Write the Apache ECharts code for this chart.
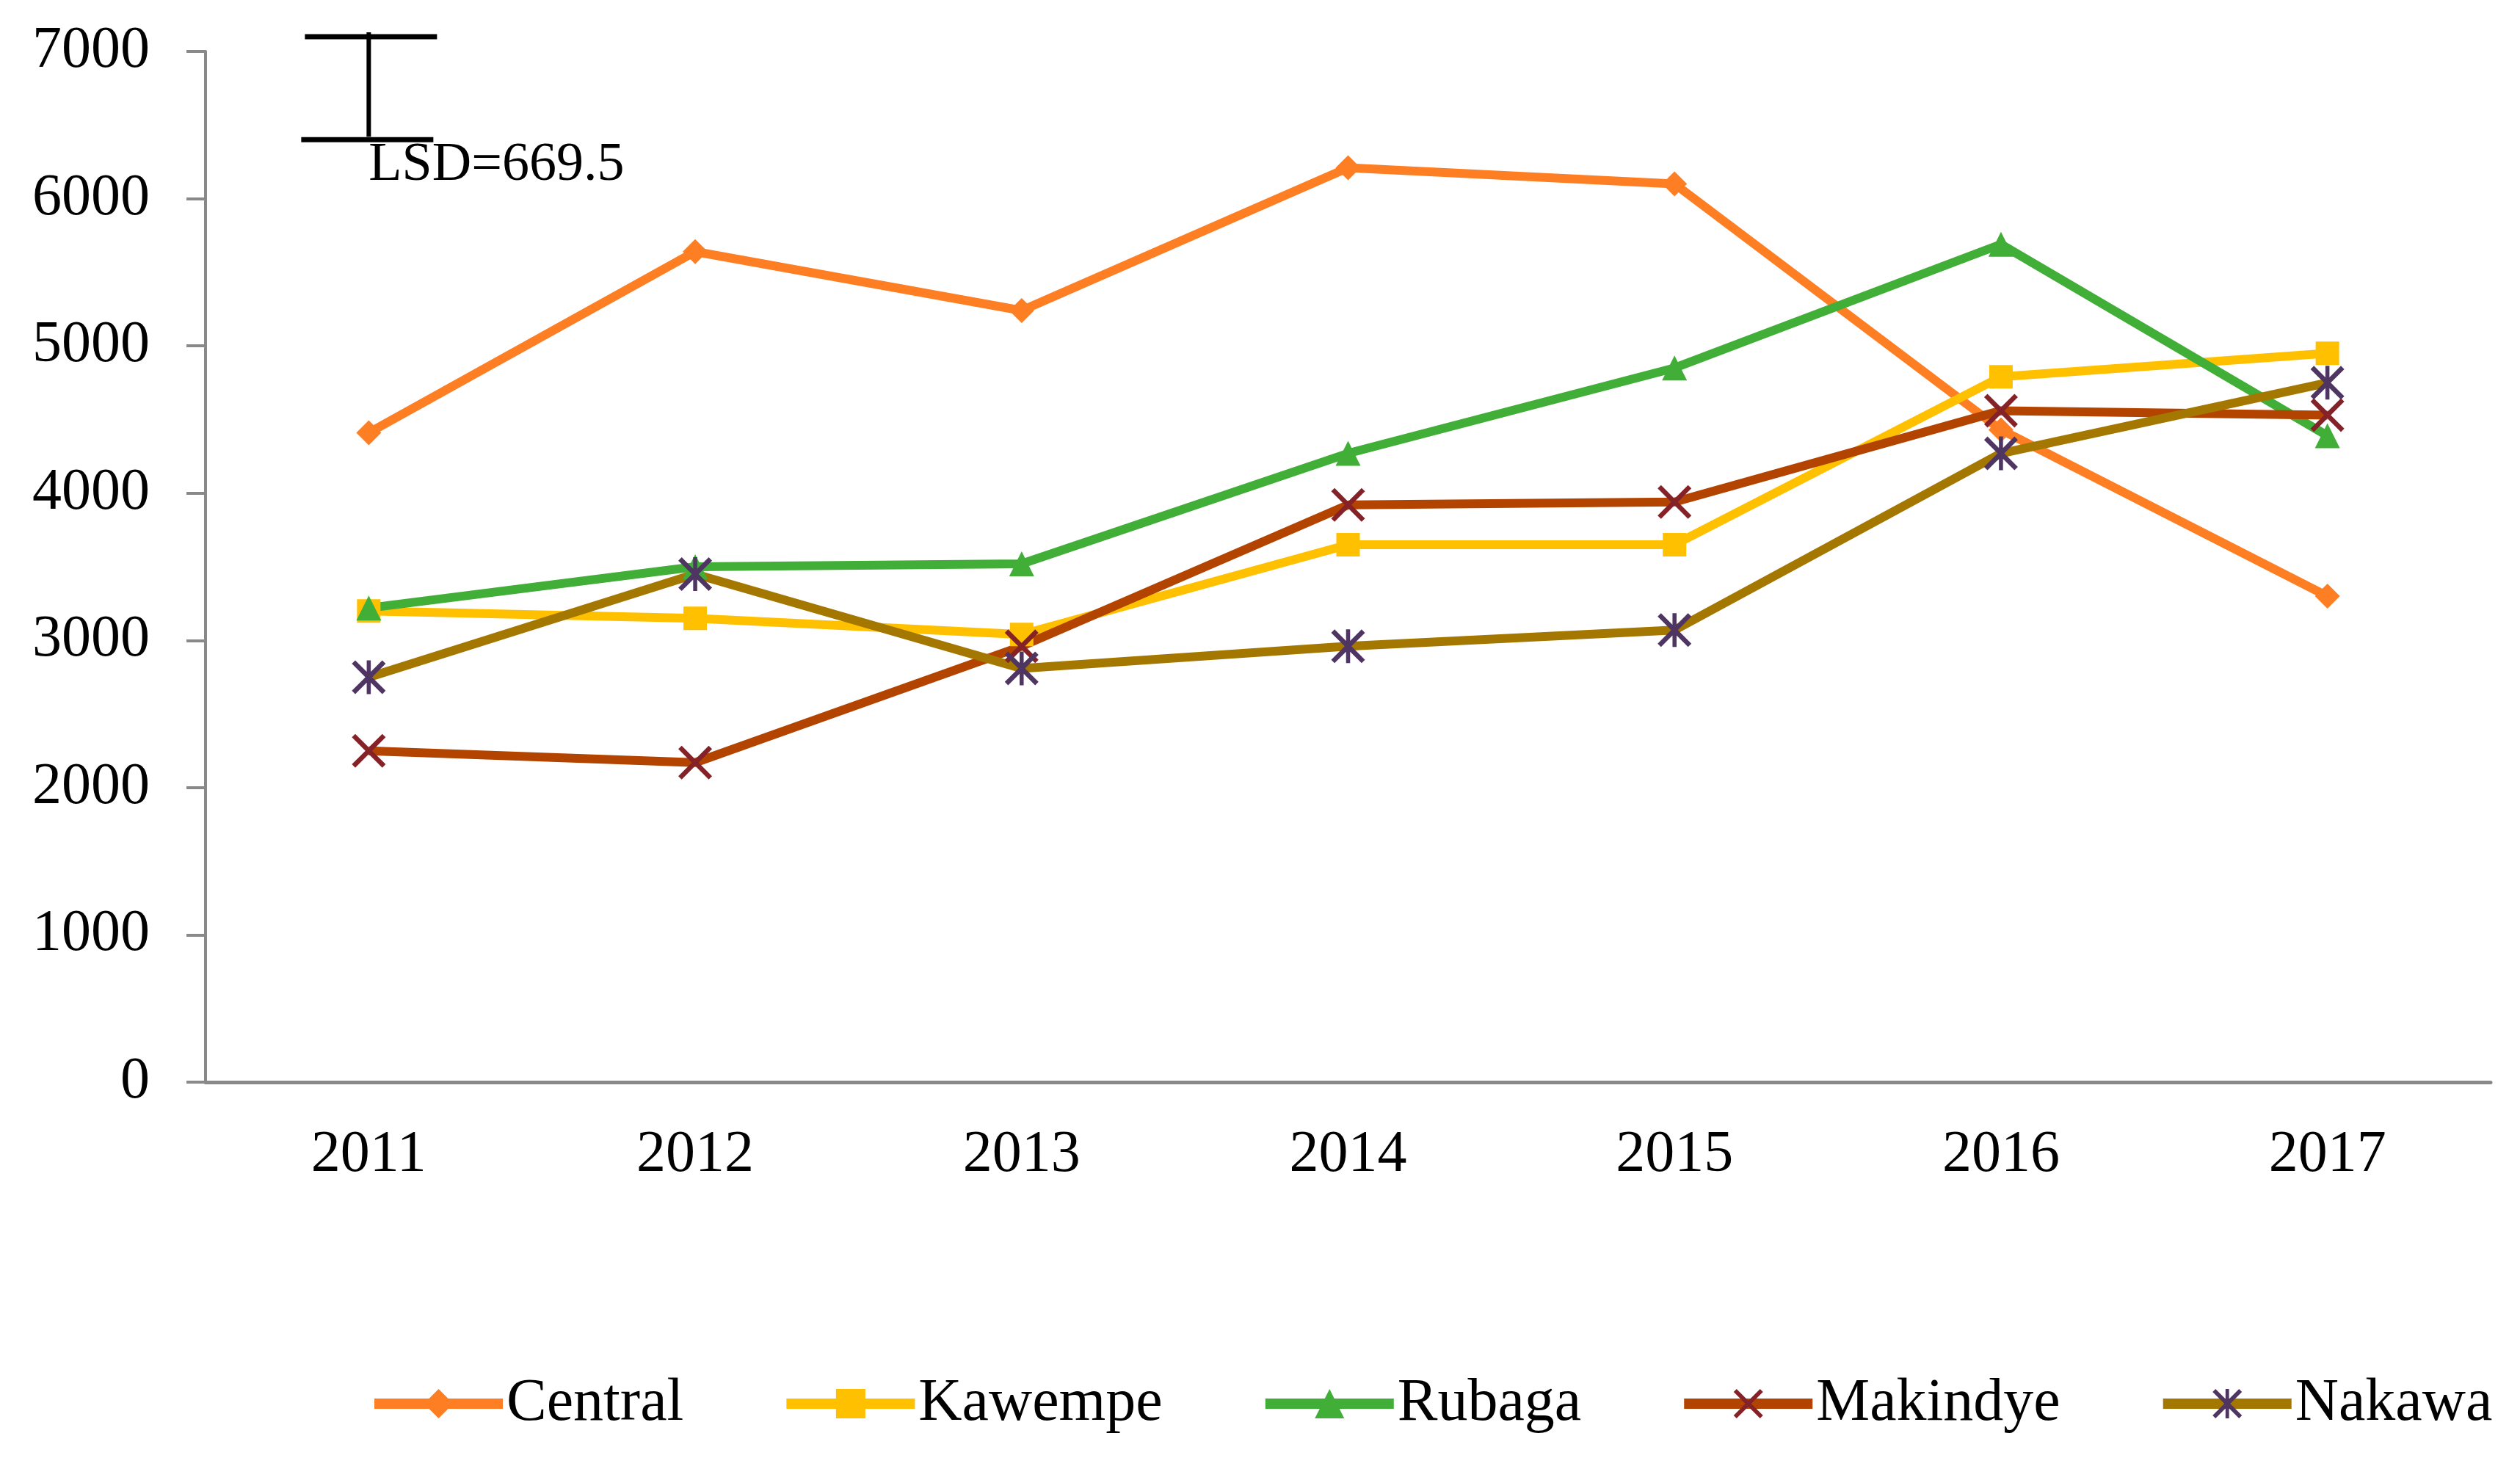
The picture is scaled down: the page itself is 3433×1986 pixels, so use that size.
<!DOCTYPE html>
<html>
<head>
<meta charset="utf-8">
<script src="https://cdn.jsdelivr.net/npm/echarts@6/dist/echarts.min.js"></script>
<style>
html,body{margin:0;padding:0;background:#fff;}
#chart{width:3433px;height:1986px;}
</style>
</head>
<body>
<div id="chart"></div>
<script>
var years = ['2011','2012','2013','2014','2015','2016','2017'];
var central  = [4410, 5640, 5240, 6210, 6100, 4430, 3300];
var kawempe  = [3200, 3150, 3040, 3650, 3650, 4790, 4950];
var rubaga   = [3220, 3500, 3520, 4270, 4850, 5690, 4390];
var makindye = [2250, 2170, 2960, 3920, 3940, 4560, 4530];
var nakawa   = [2750, 3450, 2810, 2960, 3070, 4270, 4750];
var seriesNames = ['Central','Kawempe','Rubaga','Makindye','Nakawa'];
var lsdBar = [[0, 6400, 7100]];   // category index, low, high (as drawn)
var lsdLabel = 'LSD=669.5';
var yTicks = {min: 0, max: 7000, interval: 1000};

var FONT = '"Times New Roman","Liberation Serif",serif';
var X_PATH = 'path://M10 0 L50 40 L90 0 L100 10 L60 50 L100 90 L90 100 L50 60 L10 100 L0 90 L40 50 L0 10 Z';
var AST_PATH = 'path://M10 0 L50 40 L90 0 L100 10 L60 50 L100 90 L90 100 L50 60 L10 100 L0 90 L40 50 L0 10 Z M44 0 L56 0 L56 100 L44 100 Z';

function lineSeries(name, data, lineColor, markColor, symbol, size) {
  return {
    name: name, type: 'line', data: data,
    symbol: symbol, symbolSize: size,
    lineStyle: {color: lineColor, width: 12},
    itemStyle: {color: markColor, borderWidth: 0},
    z: 3
  };
}

var chart = echarts.init(document.getElementById('chart'), null, {renderer: 'canvas'});
chart.setOption({
  animation: false,
  backgroundColor: '#fff',
  grid: {left: 280, right: 40, top: 70, bottom: 512, containLabel: false},
  legend: {
    data: seriesNames,
    left: 498, top: 1866,
    itemWidth: 175, itemHeight: 50, itemGap: 133,
    lineStyle: {width: 14},
    textStyle: {fontFamily: FONT, fontSize: 82, color: '#000'}
  },
  xAxis: {
    type: 'category', data: years, boundaryGap: true,
    axisLine: {lineStyle: {color: '#898989', width: 5}},
    axisTick: {show: false},
    axisLabel: {fontFamily: FONT, fontSize: 80, color: '#000', margin: 60},
    splitLine: {show: false}
  },
  yAxis: {
    type: 'value', min: yTicks.min, max: yTicks.max, interval: yTicks.interval,
    axisLine: {show: true, lineStyle: {color: '#898989', width: 4}},
    axisTick: {show: true, length: 26, lineStyle: {color: '#898989', width: 4}},
    axisLabel: {fontFamily: FONT, fontSize: 80, color: '#000', margin: 76,
      formatter: function (v) { return String(v); }},
    splitLine: {show: false}
  },
  series: [
    lineSeries('Central', central, '#FD7E23', '#FD7E23', 'diamond', 34),
    lineSeries('Kawempe', kawempe, '#FFC000', '#FFC000', 'rect', 32),
    lineSeries('Rubaga', rubaga, '#40AE37', '#40AE37', 'triangle', 34),
    lineSeries('Makindye', makindye, '#B34400', '#852227', X_PATH, 46),
    lineSeries('Nakawa', nakawa, '#A47700', '#4F3562', AST_PATH, 46),
    {
      type: 'custom', name: 'LSD', data: lsdBar, clip: false, z: 5,
      renderItem: function (params, api) {
        var c = api.value(0);
        var lo = api.coord([c, api.value(1)]);
        var hi = api.coord([c, api.value(2)]);
        var cx = lo[0], hw = 90;
        return {
          type: 'group',
          children: [
            {type: 'line', shape: {x1: cx, y1: hi[1] - 6, x2: cx, y2: lo[1] - 4}, style: {stroke: '#000', lineWidth: 6}},
            {type: 'line', shape: {x1: cx - hw + 3, y1: hi[1], x2: cx + hw + 3, y2: hi[1]}, style: {stroke: '#000', lineWidth: 7}},
            {type: 'line', shape: {x1: cx - hw - 2, y1: lo[1], x2: cx + hw - 2, y2: lo[1]}, style: {stroke: '#000', lineWidth: 7}},
            {type: 'text', x: cx, y: lo[1] - 2, style: {text: lsdLabel, fontFamily: FONT, fontSize: 74, fill: '#000', align: 'left', verticalAlign: 'top'}}
          ]
        };
      }
    }
  ]
});
</script>
</body>
</html>
